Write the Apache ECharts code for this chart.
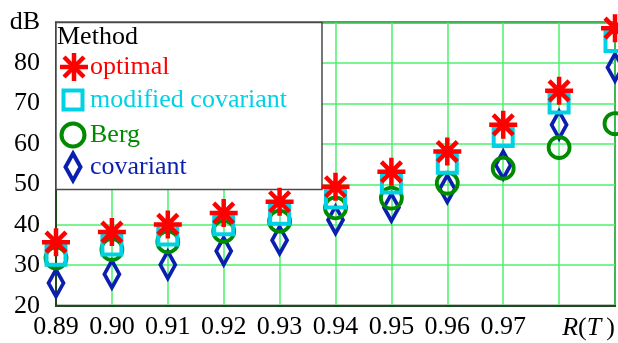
<!DOCTYPE html>
<html>
<head>
<meta charset="utf-8">
<script src="https://cdn.jsdelivr.net/npm/echarts@6/dist/echarts.min.js"></script>
<style>
  html, body { margin: 0; padding: 0; background: #fff; }
  #chart { width: 618px; height: 343px; }
</style>
</head>
<body>
<div id="chart"></div>
<script>
// Reflection coefficient R(T) values along the horizontal axis
const categories = ['0.89', '0.90', '0.91', '0.92', '0.93', '0.94', '0.95', '0.96', '0.97', '0.98', '0.99'];

// Suppression level (dB) per method
const optimal     = [35.7, 38.2, 40.1, 42.9, 45.7, 49.4, 53.1, 58.1, 64.7, 73.1, 88.6];
const modifiedCov = [32.5, 35.0, 37.5, 40.0, 42.6, 46.6, 50.3, 55.2, 61.8, 70.1, 85.3];
const berg        = [31.8, 33.9, 35.8, 38.4, 40.9, 44.2, 46.6, 50.3, 54.0, 59.1, 65.0];
const covariant   = [25.6, 27.8, 30.1, 33.5, 36.2, 41.2, 44.3, 48.9, 54.8, 64.7, 78.9];

// Tick labels that are left blank on the x axis
const hiddenXLabels = ['0.98', '0.99'];
const yTopLabel = 'dB';

const FONT = "'Liberation Serif', 'Times New Roman', serif";
const RED = '#ff0000', CYAN = '#00d2e6', GREEN = '#008a00', BLUE = '#0a1fb0';
const CLEAR = 'rgba(0,0,0,0)';

const STAR = 'path://M0,-14L0,14M-14,0L14,0M-10,-10L10,10M-10,10L10,-10';
const DIAMOND = 'path://M0,-15L8,0L0,15L-8,0Z';

const chart = echarts.init(document.getElementById('chart'), null, { renderer: 'canvas' });

// Legend box drawn on top of the grid, beneath the markers
const lx = 73;
const legendGraphics = [
  { type: 'rect', z: 1, shape: { x: 56, y: 22.5, width: 266, height: 167 },
    style: { fill: '#fff', stroke: '#4a4a4a', lineWidth: 1.5 } },
  { type: 'text', z: 6, x: 57, y: 37,
    style: { text: 'Method', fill: '#000', font: '26px ' + FONT, verticalAlign: 'middle' } },
  // asterisk
  { type: 'line', z: 6, shape: { x1: lx + 1, y1: 53, x2: lx + 1, y2: 81 }, style: { stroke: RED, lineWidth: 4.5 } },
  { type: 'line', z: 6, shape: { x1: lx - 13, y1: 67, x2: lx + 15, y2: 67 }, style: { stroke: RED, lineWidth: 4.5 } },
  { type: 'line', z: 6, shape: { x1: lx - 9, y1: 57, x2: lx + 11, y2: 77 }, style: { stroke: RED, lineWidth: 4.5 } },
  { type: 'line', z: 6, shape: { x1: lx - 9, y1: 77, x2: lx + 11, y2: 57 }, style: { stroke: RED, lineWidth: 4.5 } },
  { type: 'text', z: 6, x: 90, y: 67,
    style: { text: 'optimal', fill: RED, font: '26px ' + FONT, verticalAlign: 'middle' } },
  // square
  { type: 'rect', z: 6, shape: { x: lx - 9.5, y: 90.5, width: 19, height: 19 },
    style: { fill: CLEAR, stroke: CYAN, lineWidth: 4 } },
  { type: 'text', z: 6, x: 90, y: 100,
    style: { text: 'modified covariant', fill: CYAN, font: '26px ' + FONT, verticalAlign: 'middle' } },
  // circle
  { type: 'circle', z: 6, shape: { cx: lx, cy: 135, r: 11.5 },
    style: { fill: CLEAR, stroke: GREEN, lineWidth: 4 } },
  { type: 'text', z: 6, x: 90, y: 135,
    style: { text: 'Berg', fill: GREEN, font: '26px ' + FONT, verticalAlign: 'middle' } },
  // diamond
  { type: 'polygon', z: 6, shape: { points: [[lx, 153.5], [lx + 7.5, 167], [lx, 180.5], [lx - 7.5, 167]] },
    style: { fill: CLEAR, stroke: BLUE, lineWidth: 4 } },
  { type: 'text', z: 6, x: 90, y: 167,
    style: { text: 'covariant', fill: BLUE, font: '26px ' + FONT, verticalAlign: 'middle' } }
];

function scatter(name, data, symbol, size, color, width, z) {
  return {
    name, type: 'scatter', data, symbol, symbolSize: size, z,
    clip: false, silent: true,
    itemStyle: { color: CLEAR, borderColor: color, borderWidth: width, opacity: 1 }
  };
}

chart.setOption({
  animation: false,
  backgroundColor: '#fff',
  grid: { left: 56, right: 1, top: 22.5, bottom: 37.3, show: true,
          borderColor: '#0d0d0d', borderWidth: 2, backgroundColor: 'transparent' },
  xAxis: {
    type: 'category', data: categories, boundaryGap: false,
    name: '{i|R}({i|T\u2009})', nameLocation: 'end', nameGap: 0, nameMoveOverlap: false,
    nameTextStyle: {
      fontFamily: FONT, fontSize: 26, color: '#000', align: 'right', verticalAlign: 'top',
      padding: [9, 0, 0, 0],
      rich: { i: { fontFamily: FONT, fontSize: 26, fontStyle: 'italic', color: '#000' } }
    },
    axisLine: { show: true, lineStyle: { color: '#1c4a1c', width: 2 } },
    axisTick: { show: false },
    axisLabel: {
      interval: 0, margin: 8, fontFamily: FONT, fontSize: 26, color: '#000',
      formatter: v => hiddenXLabels.includes(v) ? '' : v
    },
    splitLine: { show: true, interval: 0, lineStyle: { color: '#4ef06e', width: 1.5 } }
  },
  yAxis: {
    type: 'value', min: 20, max: 90, interval: 10,
    axisLine: { show: true, lineStyle: { color: '#1c4a1c', width: 2 } },
    axisTick: { show: false },
    axisLabel: {
      margin: 16, fontFamily: FONT, fontSize: 26, color: '#000',
      formatter: v => v === 90 ? yTopLabel : String(v)
    },
    splitLine: { show: true, lineStyle: { color: '#4ef06e', width: 1.5 } }
  },
  graphic: { elements: legendGraphics },
  series: [
    scatter('covariant', covariant, DIAMOND, [15, 27], BLUE, 4, 2),
    scatter('Berg', berg, 'circle', 21, GREEN, 3.8, 3),
    scatter('modified covariant', modifiedCov, 'rect', 19, CYAN, 4, 4),
    scatter('optimal', optimal, STAR, 28, RED, 4.5, 5)
  ]
});
</script>
</body>
</html>
